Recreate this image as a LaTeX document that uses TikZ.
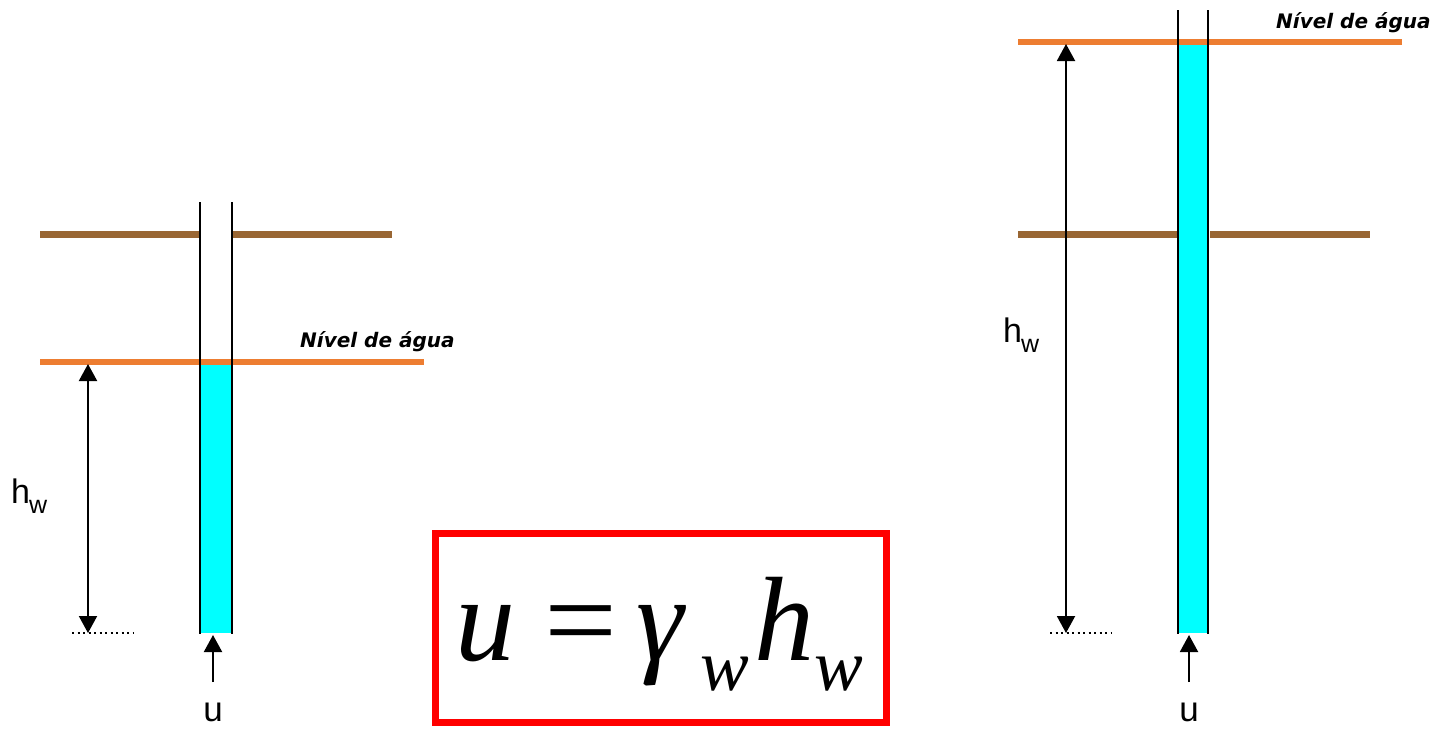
\documentclass[tikz,border=0pt]{standalone}
\usepackage{fontspec}
\setmainfont{Liberation Serif}
\newfontfamily\labfont{Liberation Sans}
\newfontfamily\nivfont{DejaVu Sans}[BoldFont={DejaVu Sans Bold},ItalicFont={DejaVu Sans Oblique},BoldItalicFont={DejaVu Sans Bold Oblique}]
\usetikzlibrary{arrows.meta}
\definecolor{soilc}{HTML}{996633}
\definecolor{orng}{HTML}{ED7D31}
\definecolor{wat}{HTML}{00FFFF}
\definecolor{boxred}{HTML}{FF0000}
\begin{document}
\begin{tikzpicture}[x=1pt,y=-1pt,
  wall/.style={line width=2pt},
  soil/.style={line width=7pt,draw=soilc},
  wlevel/.style={line width=6pt,draw=orng},
  water/.style={fill=wat},
  dimarrow/.style={line width=2pt,{Triangle[length=17pt,width=18pt]}-{Triangle[length=17pt,width=18pt]}},
  uarrow/.style={line width=2pt,-{Triangle[length=17pt,width=18pt]}},
  datum/.style={line width=2pt,dash pattern=on 2pt off 3.5pt},
  lab/.style={inner sep=0pt,anchor=base west,font=\labfont\fontsize{34}{34}\selectfont},
  sub/.style={inner sep=0pt,anchor=base west,font=\labfont\fontsize{25}{25}\selectfont},
  ulab/.style={inner sep=0pt,anchor=base,font=\labfont\fontsize{35}{35}\selectfont},
  niv/.style={inner sep=0pt,anchor=base west,font=\nivfont\bfseries\itshape\fontsize{20}{20}\selectfont},
  big/.style={inner sep=0pt,anchor=base west,font=\fontsize{120}{120}\selectfont},
  bigsub/.style={inner sep=0pt,anchor=base west,font=\fontsize{73}{73}\selectfont},
]
\useasboundingbox (0,0) rectangle (1434,728);

% ---------- left piezometer ----------
\fill[water] (201,362) rectangle (231,633);
\draw[soil] (40,234) -- (199,234);
\draw[soil] (232,234) -- (392,234);
\draw[wlevel] (40,362) -- (424,362);
\draw[wall] (200,202) -- (200,634);
\draw[wall] (232,202) -- (232,634);
\node[niv] (nivL) at (300,347) {Nível de água};

\coordinate (LdimT) at (88,364);
\coordinate (LdimB) at (88,633);
\draw[dimarrow] (LdimT) -- (LdimB);
\coordinate (LdatA) at (72,633);
\coordinate (LdatB) at (134,633);
\draw[datum] (LdatA) -- (LdatB);
\node[lab] (hL) at (11,503) {h};
\node[sub] (wL) at (29,513) {w};

\coordinate (LuS) at (213,682);
\coordinate (LuE) at (213,635);
\draw[uarrow] (LuS) -- (LuE);
\node[ulab] (uL) at (213,721) {u};

% ---------- right piezometer ----------
\fill[water] (1179,42) rectangle (1208,633);
\draw[soil] (1018,234) -- (1177,234);
\draw[soil] (1210,234) -- (1370,234);
\draw[wlevel] (1018,42) -- (1402,42);
\draw[wall] (1178,10) -- (1178,634);
\draw[wall] (1208,10) -- (1208,634);
\node[niv] (nivR) at (1276,28) {Nível de água};

\coordinate (RdimT) at (1066,44);
\coordinate (RdimB) at (1066,633);
\draw[dimarrow] (RdimT) -- (RdimB);
\coordinate (RdatA) at (1050,633);
\coordinate (RdatB) at (1112,633);
\draw[datum] (RdatA) -- (RdatB);
\node[lab] (hR) at (1003,342) {h};
\node[sub] (wR) at (1021,352) {w};

\coordinate (RuS) at (1189,682);
\coordinate (RuE) at (1189,635);
\draw[uarrow] (RuS) -- (RuE);
\node[ulab] (uR) at (1189,721) {u};

% ---------- formula ----------
\draw[line width=7pt,draw=boxred] (435.5,533.5) rectangle (886.5,722.5);
\node[big] (fu) at (455,660) {\itshape u};
\node[big] (feq) at (544,660) {\scalebox{1.08}[1]{=}};
\node[big] (fg) at (636,660) {\itshape γ};
\node[bigsub] (fw1) at (700,690) {\itshape w};
\node[big] (fh) at (754,660) {\itshape h};
\node[bigsub] (fw2) at (814,690) {\itshape w};
\end{tikzpicture}
\end{document}
